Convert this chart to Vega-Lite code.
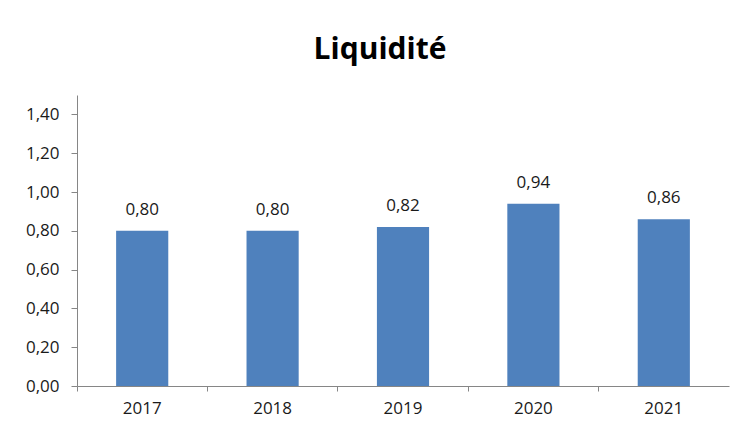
{
  "$schema": "https://vega.github.io/schema/vega-lite/v6.json",
  "autosize": {"type": "none"},
  "width": 652,
  "height": 291,
  "padding": {"left": 77, "top": 95, "right": 11, "bottom": 44},
  "background": "white",
  "config": {
    "locale": {"number": {"decimal": ",", "thousands": " ", "grouping": [3], "currency": ["", " €"]}},
    "view": {"stroke": null},
    "font": "Open Sans"
  },
  "title": {
    "text": "Liquidité",
    "font": "Open Sans",
    "fontSize": 30,
    "fontWeight": "bold",
    "color": "#000000",
    "anchor": "middle",
    "frame": "group",
    "dx": -23,
    "offset": 30
  },
  "data": {
    "values": [
      {"year": "2017", "value": 0.80},
      {"year": "2018", "value": 0.80},
      {"year": "2019", "value": 0.82},
      {"year": "2020", "value": 0.94},
      {"year": "2021", "value": 0.86}
    ]
  },
  "encoding": {
    "x": {
      "field": "year",
      "type": "nominal",
      "sort": null,
      "scale": {"paddingInner": 0, "paddingOuter": 0},
      "axis": {
        "title": null,
        "labelAngle": 0,
        "labelFont": "Open Sans",
        "labelFontSize": 17,
        "labelColor": "#1a1a1a",
        "domainColor": "#868686",
        "tickColor": "#868686",
        "tickSize": 5,
        "labelPadding": 9,
        "bandPosition": 0,
        "grid": false
      }
    },
    "y": {
      "field": "value",
      "type": "quantitative",
      "scale": {"domain": [0, 1.5], "nice": false},
      "axis": {
        "title": null,
        "values": [0, 0.2, 0.4, 0.6, 0.8, 1.0, 1.2, 1.4],
        "format": ".2f",
        "labelFont": "Open Sans",
        "labelFontSize": 17,
        "labelColor": "#1a1a1a",
        "domainColor": "#868686",
        "tickColor": "#868686",
        "tickSize": 6,
        "labelPadding": 12,
        "grid": false
      }
    }
  },
  "layer": [
    {
      "mark": {"type": "bar", "color": "#4F81BD", "width": {"band": 0.4}}
    },
    {
      "mark": {"type": "text", "dy": -12, "baseline": "bottom", "font": "Open Sans", "fontSize": 17, "color": "#1a1a1a"},
      "encoding": {"text": {"field": "value", "type": "quantitative", "format": ".2f"}}
    }
  ]
}
